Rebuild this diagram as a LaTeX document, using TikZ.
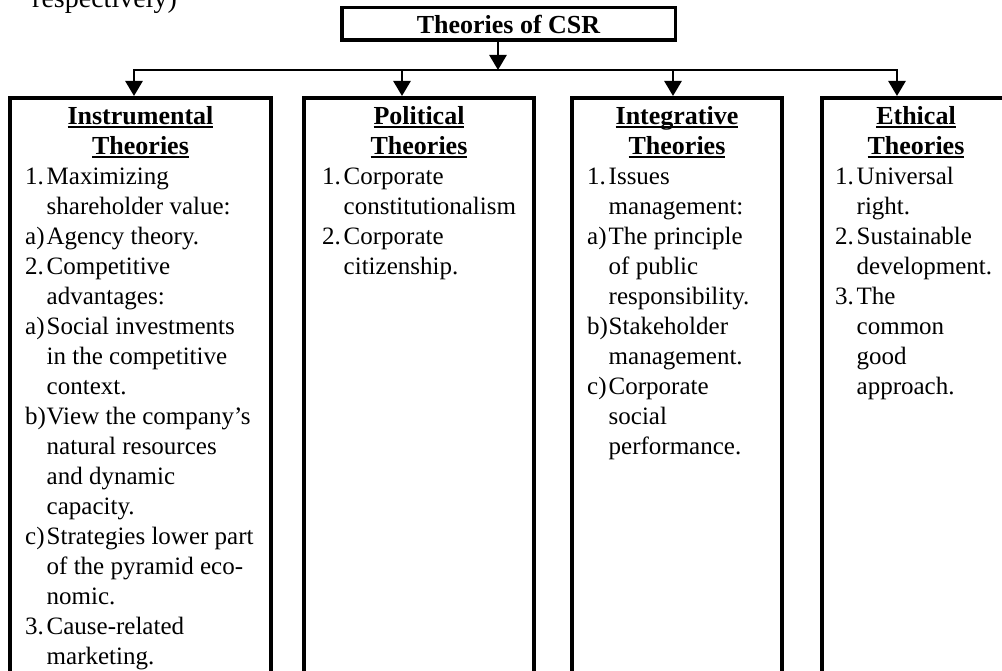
\documentclass[tikz,border=0pt]{standalone}
\usepackage{fontspec}
\setmainfont{Liberation Serif}
\usetikzlibrary{arrows.meta}
\newcommand\ulx[1]{\setbox0\hbox{#1}\rlap{\rule[-3.2pt]{\wd0}{1.7pt}}\box0}
\newcommand\nm[1]{\makebox[21.5pt][l]{#1}}
\begin{document}
\begin{tikzpicture}[x=1pt,y=-1pt,
  box/.style={draw, line width=4pt, inner sep=0pt, anchor=north west, minimum height=700pt},
  topbox/.style={draw, line width=3.5pt, inner sep=0pt, minimum width=333.5pt, minimum height=32.5pt, font=\fontsize{26}{30}\selectfont\bfseries},
  lst/.style={anchor=base west, inner sep=0pt, font=\fontsize{25}{30}\selectfont},
  ttl/.style={anchor=base, inner sep=0pt, font=\fontsize{26}{30}\selectfont\bfseries},
  arr/.style={line width=2.6pt, -{Triangle[width=17pt,length=15pt]}},
  hub/.style={line width=2.6pt, line cap=rect}]
\useasboundingbox (0,0) rectangle (1002,671);
\fill[white] (0,0) rectangle (1002,671);
\clip (0,0) rectangle (1002,671);
% fragment of page text above
\node[anchor=base east, inner sep=0pt, font=\fontsize{28}{30}\selectfont] (frag) at (177,8) {respectively)};
% top box
\node[topbox] (top) at (508.5,24) {Theories of CSR};
% boxes
\node[box, minimum width=261pt] (b1) at (8,96) {};
\node[box, minimum width=230pt] (b2) at (302,96) {};
\node[box, minimum width=210pt] (b3) at (570,96) {};
\node[box, minimum width=188pt] (b4) at (820,96) {};
% connectors
\coordinate (tj) at (498,70);
\coordinate (h1) at (134,70);
\coordinate (h2) at (402,70);
\coordinate (h3) at (673,70);
\coordinate (h4) at (897,70);
\draw[arr] (tj |- top.south) -- (tj);
\draw[hub] (h1) -- (h4);
\draw[arr] (h1) -- (h1 |- b1.north);
\draw[arr] (h2) -- (h2 |- b2.north);
\draw[arr] (h3) -- (h3 |- b3.north);
\draw[arr] (h4) -- (h4 |- b4.north);
% titles
\node[ttl] (t1) at (140.5,125) {\begin{tabular}[t]{@{}c@{}}\ulx{Instrumental}\\\ulx{Theories}\end{tabular}};
\node[ttl] (t2) at (419,125) {\begin{tabular}[t]{@{}c@{}}\ulx{Political}\\\ulx{Theories}\end{tabular}};
\node[ttl] (t3) at (677,125) {\begin{tabular}[t]{@{}c@{}}\ulx{Integrative}\\\ulx{Theories}\end{tabular}};
\node[ttl] (t4) at (916,125) {\begin{tabular}[t]{@{}c@{}}\ulx{Ethical}\\\ulx{Theories}\end{tabular}};
% lists
\node[lst] (l1) at (25,185) {\begin{tabular}[t]{@{}l@{}l@{}}
\nm{1.}&Maximizing\\
&shareholder value:\\
\nm{a)}&Agency theory.\\
\nm{2.}&Competitive\\
&advantages:\\
\nm{a)}&Social investments\\
&in the competitive\\
&context.\\
\nm{b)}&View the company’s\\
&natural resources\\
&and dynamic\\
&capacity.\\
\nm{c)}&Strategies lower part\\
&of the pyramid eco-\\
&nomic.\\
\nm{3.}&Cause-related\\
&marketing.
\end{tabular}};
\node[lst] (l2) at (322,185) {\begin{tabular}[t]{@{}l@{}l@{}}
\nm{1.}&Corporate\\
&constitutionalism\\
\nm{2.}&Corporate\\
&citizenship.
\end{tabular}};
\node[lst] (l3) at (587,185) {\begin{tabular}[t]{@{}l@{}l@{}}
\nm{1.}&Issues\\
&management:\\
\nm{a)}&The principle\\
&of public\\
&responsibility.\\
\nm{b)}&Stakeholder\\
&management.\\
\nm{c)}&Corporate\\
&social\\
&performance.
\end{tabular}};
\node[lst] (l4) at (835,185) {\begin{tabular}[t]{@{}l@{}l@{}}
\nm{1.}&Universal\\
&right.\\
\nm{2.}&Sustainable\\
&development.\\
\nm{3.}&The\\
&common\\
&good\\
&approach.
\end{tabular}};
\end{tikzpicture}
\end{document}
